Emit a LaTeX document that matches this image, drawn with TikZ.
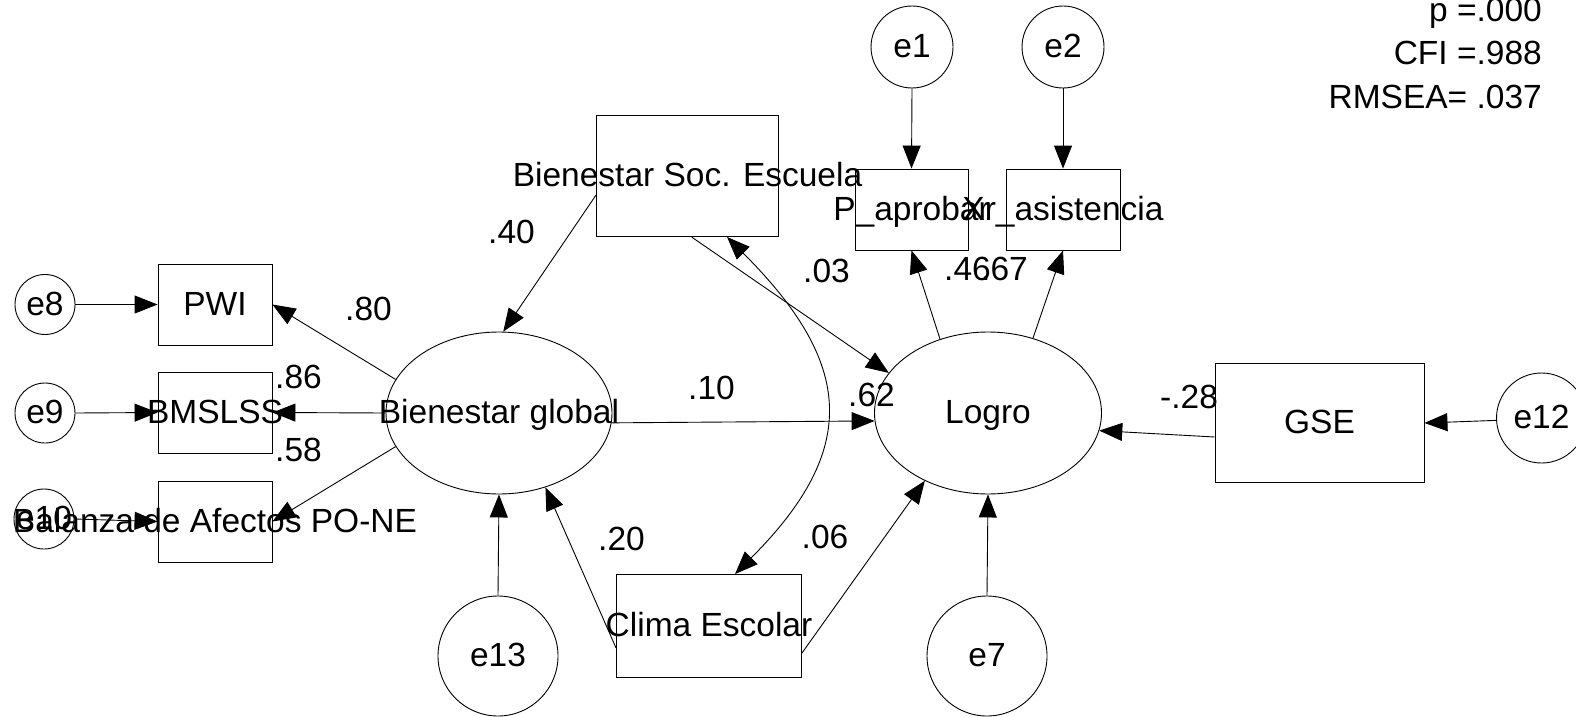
\documentclass[tikz,border=0pt]{standalone}
\usepackage{fontspec}
\setmainfont{Liberation Sans}
\usetikzlibrary{shapes.geometric,arrows.meta,calc}
% text centred on a node without widening it
\newcommand{\lbltext}[1]{\makebox[0pt][c]{#1}}
\begin{document}
\begin{tikzpicture}[x=1pt,y=1pt,
  every node/.style={font=\fontsize{33.5}{40}\selectfont},
  shp/.style={draw=black,line width=0.9pt,inner sep=0pt,text height=24pt,text depth=3pt},
  obs/.style={shp,rectangle},
  lat/.style={shp,ellipse,minimum width=226pt,minimum height=162pt},
  err/.style={shp,circle},
  coef/.style={anchor=base west,inner sep=0pt},
  fit/.style={anchor=base east,inner sep=0pt},
  arw/.style={line width=0.9pt,-{Triangle[length=23pt,width=18pt]}},
  cov/.style={line width=0.9pt,{Triangle[length=23pt,width=18pt]}-{Triangle[length=23pt,width=18pt]}}
]
\useasboundingbox (0,0) rectangle (1576,-717);

% fit indices
\node[fit] (fp) at (1542,-22) {p =.000};
\node[fit] (fc) at (1542,-65) {CFI =.988};
\node[fit] (fr) at (1542,-108) {RMSEA= .037};

% observed variables
\node[obs,minimum width=182pt,minimum height=121pt] (BSE) at (687.5,-176) {\lbltext{Bienestar Soc. Escuela}};
\node[obs,minimum width=113pt,minimum height=81pt] (Pap) at (911.5,-209.5) {\lbltext{P\_aprobar}};
\node[obs,minimum width=114pt,minimum height=81pt] (Xra) at (1063,-209.5) {\lbltext{Xr\_asistencia}};
\node[obs,minimum width=114pt,minimum height=81pt] (PWI) at (215,-304.5) {\lbltext{PWI}};
\node[obs,minimum width=114pt,minimum height=81pt] (BMS) at (215,-412.5) {\lbltext{BMSLSS}};
\node[obs,minimum width=114pt,minimum height=81pt] (Bal) at (215,-521.5) {\lbltext{Balanza de Afectos PO-NE}};
\node[obs,minimum width=209pt,minimum height=119pt] (GSE) at (1319.5,-423) {\lbltext{GSE}};
\node[obs,minimum width=185pt,minimum height=103pt] (Cli) at (709,-626) {\lbltext{Clima Escolar}};

% latent variables
\node[lat] (BG) at (499,-413) {\lbltext{Bienestar global}};
\node[lat,minimum width=227pt] (Lo) at (988,-413) {\lbltext{Logro}};

% error terms
\node[err,minimum size=82pt] (e1) at (912,-47) {\lbltext{e1}};
\node[err,minimum size=82pt] (e2) at (1063,-47) {\lbltext{e2}};
\node[err,minimum size=60pt] (e8) at (45,-304.5) {\lbltext{e8}};
\node[err,minimum size=60pt] (e9) at (45,-413) {\lbltext{e9}};
\node[err,minimum size=60pt] (e10) at (44,-519) {\lbltext{e10}};
\node[err,minimum size=90pt] (e12) at (1541.5,-418) {\lbltext{e12}};
\node[err,minimum size=120pt] (e13) at (498,-656) {\lbltext{e13}};
\node[err,minimum size=120pt] (e7) at (987,-656) {\lbltext{e7}};

% paths
\draw[arw] (e1.south) -- (Pap.north);
\draw[arw] (e2.south) -- (Xra.north);
\draw[arw] (e8.east) -- (PWI.west);
\draw[arw] (e9.east) -- (BMS.west);
\draw[arw] (e10.east) -- (Bal.west);
\draw[arw] (BG.162) -- (PWI.east);
\draw[arw] (BG.west) -- (BMS.east);
\draw[arw] (BG.198) -- (Bal.east);
\draw[arw] ([yshift=-19pt]BSE.west) -- (BG.87);
\draw[arw] ([xshift=4pt]BSE.south) -- (Lo.158);
\draw[arw] (BG.-5) -- (Lo.184);
\draw[arw] (Lo.123) -- (Pap.south);
\draw[arw] (Lo.59) -- (Xra.south);
\draw[arw] ([yshift=-14pt]GSE.west) -- (Lo.-9.5);
\draw[arw] (e12.183) -- (GSE.east);
\draw[arw] (e13.north) -- (BG.south);
\draw[arw] (e7.north) -- (Lo.south);
\draw[arw] ([yshift=-22pt]Cli.west) -- (BG.302);
\draw[arw] ([yshift=-27pt]Cli.east) -- (Lo.227);
\draw[cov] ([xshift=39.5pt]BSE.south) to[out=-45,in=45,distance=178pt] ([xshift=26pt]Cli.north);

% coefficients
\node[coef] (c40) at (488,-243) {.40};
\node[coef] (c80) at (345,-320) {.80};
\node[coef] (c86) at (275,-388) {.86};
\node[coef] (c58) at (275,-461.5) {.58};
\node[coef] (c10) at (688,-399) {.10};
\node[coef] (c62) at (848,-406.5) {.62};
\node[coef] (c03) at (803,-282) {.03};
\node[coef] (c46) at (944,-280) {.46};
\node[coef] (c67) at (981,-280) {.67};
\node[coef] (c28) at (1160,-408) {-.28};
\node[coef] (c20) at (598,-550) {.20};
\node[coef] (c06) at (801.5,-548) {.06};
\end{tikzpicture}
\end{document}
